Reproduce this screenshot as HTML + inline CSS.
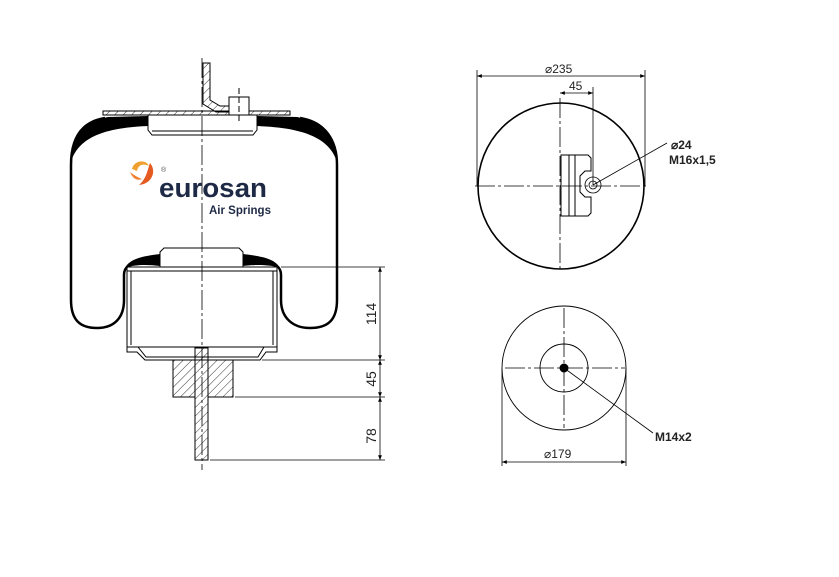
<!DOCTYPE html>
<html><head><meta charset="utf-8"><style>
html,body{margin:0;padding:0;background:#fff;width:839px;height:577px;overflow:hidden}
svg{display:block}
text{font-family:"Liberation Sans",sans-serif}
</style></head><body>
<svg width="839" height="577" viewBox="0 0 839 577" xmlns="http://www.w3.org/2000/svg">
<defs>
<pattern id="h" patternUnits="userSpaceOnUse" width="6" height="6" patternTransform="rotate(45)">
<line x1="0" y1="0" x2="0" y2="6" stroke="#000" stroke-width="0.8"/>
</pattern>
<marker id="a" viewBox="0 0 10 10" refX="10" refY="5" markerWidth="8" markerHeight="6" orient="auto-start-reverse"><path d="M0,1 L10,5 L0,9 z" fill="#000"/></marker>
</defs>
<g fill="none" stroke="#000" stroke-width="1">
<rect x="103" y="111" width="187" height="4" fill="url(#h)"/>
<path d="M203,63 L210,63 L210,100 L220,106 L229,106 L229,112 L216,112 L203,104 Z" fill="url(#h)"/>
<rect x="229" y="97" width="20" height="18" fill="#fff"/>
<line x1="239" y1="88" x2="239" y2="124" stroke-dasharray="6,3"/>
<path d="M148,115 L148,130 L152,135 L253,135 L257,130 L257,115"/>
<line x1="152" y1="131" x2="253" y2="131"/>
<!-- bellows -->
<path d="M105,118 C80,122 71,140 71,165 L71,300 C71,320 80,328 97,328 C114,328 124,318 124,300 L124,275 C124,266 130,264 140,262 L158,258" stroke-width="2.5"/>
<path d="M148,116 L108,117 C85,121 72,137 70,165 C76,142 95,128 148,126 Z" fill="#000" stroke="none"/>
<path d="M300,118 C325,122 337,140 337,165 L337,300 C337,320 328,328 310,328 C293,328 281,318 281,300 L281,275 C281,266 275,264 265,262 L245,258" stroke-width="2.5"/>
<path d="M257,116 L297,117 C320,121 336,137 338,165 C332,142 312,128 257,126 Z" fill="#000" stroke="none"/>
<path d="M125,268 C130,258 145,256 160,254 L160,266 C145,264 132,265 125,268 Z" fill="#000" stroke="none"/>
<path d="M280,268 C275,258 259,256 243,254 L243,266 C258,264 272,265 280,268 Z" fill="#000" stroke="none"/>
<!-- piston -->
<path d="M160,267 L160,252 L164,248 L239,248 L243,252 L243,267"/>
<rect x="127" y="267" width="150" height="80"/>
<line x1="131" y1="271" x2="131" y2="345"/><line x1="273" y1="271" x2="273" y2="345"/>
<line x1="127" y1="271" x2="277" y2="271"/>
<path d="M127,347 L127,352 L137,352 L145,360 L260,360 L266,352 L277,352 L277,347"/>
<path d="M138,347 L146,357 L258,357 L264,347"/>
<rect x="173" y="360" width="22" height="37" fill="url(#h)"/>
<rect x="208" y="360" width="25" height="37" fill="url(#h)"/>
<rect x="195" y="348" width="13" height="112" fill="url(#h)"/>
<line x1="202" y1="58" x2="202" y2="470" stroke-dasharray="20,3,3,3" stroke-width="0.8"/>
<line x1="281" y1="267" x2="385" y2="267" stroke-width="0.8"/>
<line x1="262" y1="360" x2="385" y2="360" stroke-width="0.8"/>
<line x1="235" y1="397" x2="385" y2="397" stroke-width="0.8"/>
<line x1="210" y1="460" x2="385" y2="460" stroke-width="0.8"/>
<line x1="380" y1="267" x2="380" y2="360" marker-start="url(#a)" marker-end="url(#a)" stroke-width="0.8"/>
<line x1="380" y1="360" x2="380" y2="397" marker-start="url(#a)" marker-end="url(#a)" stroke-width="0.8"/>
<line x1="380" y1="397" x2="380" y2="460" marker-start="url(#a)" marker-end="url(#a)" stroke-width="0.8"/>
</g>
<g font-size="14" fill="#222">
<text transform="translate(376,314) rotate(-90)" text-anchor="middle">114</text>
<text transform="translate(376,379) rotate(-90)" text-anchor="middle">45</text>
<text transform="translate(376,436) rotate(-90)" text-anchor="middle">78</text>
</g>
<g>
<path d="M132,169 C134,160 146,159 149,166 C143,163 138,165 137,171 Z" fill="#f0a030"/>
<path d="M150,163 C157,171 152,184 139,185 C146,179 147,172 150,163 Z" fill="#e55a20"/>
<path d="M130,172 C133,179 137,181 142,179 C137,177 134,175 130,172 Z" fill="#f08030"/>
<text x="161" y="172" font-size="7" fill="#555">®</text>
<text x="159" y="197" font-size="27" font-weight="bold" fill="#1e2a45" textLength="108" lengthAdjust="spacingAndGlyphs">eurosan</text>
<text x="209" y="214" font-size="11.5" font-weight="bold" fill="#1e2a45">Air Springs</text>
</g>
<g fill="none" stroke="#000">
<circle cx="561" cy="186" r="83" stroke-width="1.6"/>
<line x1="475" y1="186" x2="647" y2="186" stroke-dasharray="20,3,3,3" stroke-width="0.8"/>
<line x1="560" y1="98" x2="560" y2="270" stroke-dasharray="20,3,3,3" stroke-width="0.8"/>
<line x1="477" y1="70" x2="477" y2="186" stroke-width="0.8"/>
<line x1="645" y1="70" x2="645" y2="186" stroke-width="0.8"/>
<line x1="477" y1="76" x2="645" y2="76" marker-start="url(#a)" marker-end="url(#a)" stroke-width="0.8"/>
<line x1="593" y1="87" x2="593" y2="185" stroke-width="0.8"/>
<line x1="560" y1="93" x2="593" y2="93" marker-start="url(#a)" marker-end="url(#a)" stroke-width="0.8"/>
<path d="M561,155 L588,155 L591,158 L591,171 L585,171 L580,176 L580,192 L585,197 L591,197 L591,213 L588,216 L561,216 Z" stroke-width="1"/>
<line x1="569" y1="155" x2="569" y2="216"/><line x1="575" y1="155" x2="575" y2="216"/>
<circle cx="593" cy="185" r="8" stroke-width="0.8"/><circle cx="593" cy="185" r="4" stroke-width="0.8"/>
<line x1="593" y1="185" x2="667" y2="143" stroke-width="0.8"/>
</g>
<g font-size="12" fill="#222">
<text x="545" y="73">⌀235</text>
<text x="569" y="90">45</text>
<text x="671" y="149" font-weight="bold">⌀24</text>
<text x="669" y="164" font-weight="bold">M16x1,5</text>
</g>
<g fill="none" stroke="#000">
<circle cx="564" cy="368" r="62" stroke-width="0.9"/>
<circle cx="564" cy="368" r="24" stroke-width="0.9"/>
<circle cx="564" cy="368" r="4" fill="#000"/>
<line x1="505" y1="368" x2="625" y2="368" stroke-dasharray="20,3,3,3" stroke-width="0.8"/>
<line x1="564" y1="308" x2="564" y2="428" stroke-dasharray="20,3,3,3" stroke-width="0.8"/>
<line x1="502" y1="368" x2="502" y2="466" stroke-width="0.8"/>
<line x1="626" y1="368" x2="626" y2="466" stroke-width="0.8"/>
<line x1="502" y1="462" x2="626" y2="462" marker-start="url(#a)" marker-end="url(#a)" stroke-width="0.8"/>
<line x1="564" y1="368" x2="653" y2="433" stroke-width="0.8"/>
</g>
<g font-size="12" fill="#222">
<text x="544" y="458">⌀179</text>
<text x="655" y="441" font-weight="bold">M14x2</text>
</g>
</svg>
</body></html>
